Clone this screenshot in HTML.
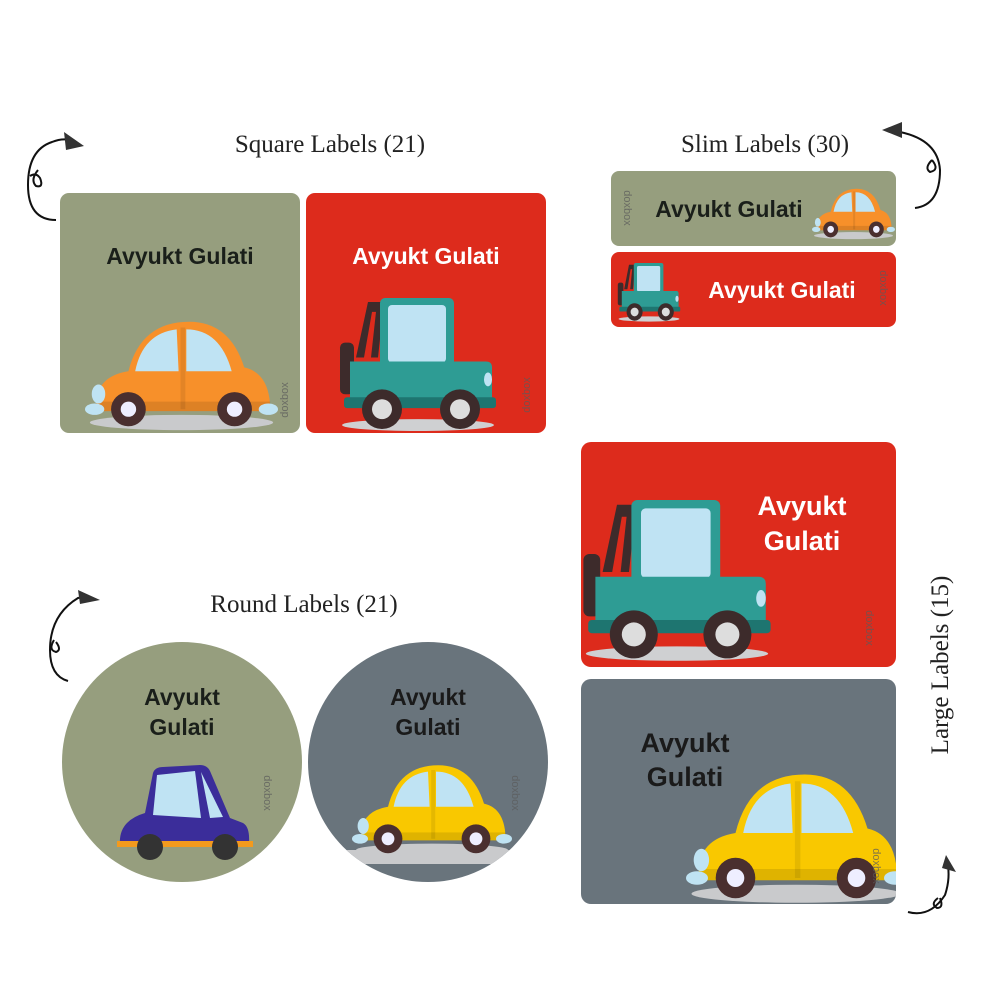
<!DOCTYPE html>
<html><head><meta charset="utf-8"><style>
html,body{margin:0;padding:0;background:#fff;}
svg{display:block;}
.t{font-family:"Liberation Serif",serif;font-size:25px;fill:#222;}
.n{font-family:"Liberation Sans",sans-serif;font-weight:bold;}
.w{font-family:"Liberation Sans",sans-serif;font-size:11px;fill:#5b5b5b;opacity:.75;}
</style></head><body>
<svg width="1000" height="1000" viewBox="0 0 1000 1000" xmlns="http://www.w3.org/2000/svg">
<defs>
<symbol id="bug" viewBox="0 0 200 120" preserveAspectRatio="none">
  <ellipse cx="100" cy="110" rx="95" ry="8" fill="#c9cacc"/>
  <path d="M12 98 Q8 62 45 56 Q58 4 108 4 Q150 4 165 52 Q192 58 192 98 Z" fill="currentColor"/>
  <path d="M52 56 Q60 16 95 12 L97 56 Z" fill="#bfe3f3"/>
  <path d="M105 12 Q140 12 152 56 L105 56 Z" fill="#bfe3f3"/>
  <rect x="99" y="10" width="5" height="86" fill="#000" opacity=".08"/>
  <rect x="12" y="88" width="180" height="10" fill="#000" opacity=".1"/>
  <ellipse cx="14" cy="80" rx="7" ry="10" fill="#bfe3f3"/>
  <ellipse cx="10" cy="96" rx="10" ry="6" fill="#bfe3f3"/>
  <ellipse cx="190" cy="96" rx="10" ry="6" fill="#bfe3f3"/>
  <circle cx="45" cy="96" r="18" fill="#4a2f2f"/><circle cx="45" cy="96" r="8" fill="#eef"/>
  <circle cx="155" cy="96" r="18" fill="#4a2f2f"/><circle cx="155" cy="96" r="8" fill="#eef"/>
</symbol>
<symbol id="jeep" viewBox="0 0 160 135" preserveAspectRatio="none">
  <ellipse cx="80" cy="128" rx="76" ry="6" fill="#cfd0d2"/>
  <path d="M18 60 L30 4 L46 4 L40 60 L33 60 L38 14 L34 14 L26 60 Z" fill="#3d2b2b"/>
  <rect x="2" y="45" width="14" height="52" rx="5" fill="#3d2b2b"/>
  <rect x="42" y="0" width="74" height="72" rx="5" fill="#2e9c94"/>
  <rect x="50" y="7" width="58" height="58" rx="4" fill="#bfe3f3"/>
  <path d="M12 64 H148 Q154 64 154 70 V105 H12 Z" fill="#2e9c94"/>
  <rect x="6" y="100" width="152" height="11" rx="3" fill="#1e7570"/>
  <ellipse cx="150" cy="82" rx="4" ry="7" fill="#bfe3f3"/>
  <circle cx="44" cy="112" r="20" fill="#3d2b2b"/><circle cx="44" cy="112" r="10" fill="#ddd"/>
  <circle cx="122" cy="112" r="20" fill="#3d2b2b"/><circle cx="122" cy="112" r="10" fill="#ddd"/>
</symbol>
<symbol id="box" viewBox="0 0 140 100" preserveAspectRatio="none">
  <path d="M30 50 L38 10 Q40 4 48 4 L85 2 Q92 2 95 8 L115 55 L128 60 Q135 64 134 80 L5 82 Q3 58 30 50 Z" fill="#3b2d9a"/>
  <path d="M42 12 L80 8 L86 55 L38 52 Z" fill="#bfe3f3"/>
  <path d="M86 9 L108 54 L95 55 Z" fill="#bfe3f3"/>
  <rect x="2" y="78" width="136" height="6" fill="#f39a1e"/>
  <circle cx="35" cy="84" r="13" fill="#333"/><circle cx="110" cy="84" r="13" fill="#333"/>
</symbol>
<clipPath id="cg"><rect x="581" y="679" width="315" height="225" rx="10"/></clipPath>
<clipPath id="cr"><rect x="581" y="442" width="315" height="225" rx="10"/></clipPath>
<clipPath id="c2"><circle cx="428" cy="762" r="120"/></clipPath>
</defs>

<text class="t" x="330" y="152" text-anchor="middle">Square Labels (21)</text>
<text class="t" x="765" y="152" text-anchor="middle">Slim Labels (30)</text>
<text class="t" x="304" y="612" text-anchor="middle">Round Labels (21)</text>
<text class="t" transform="translate(948,665) rotate(-90)" text-anchor="middle">Large Labels (15)</text>

<g fill="none" stroke="#111" stroke-width="2">
 <path d="M56 220 Q28 220 28 185 Q28 150 52 142 Q62 138 70 140"/>
 <path d="M38 170 Q30 180 36 186 Q44 188 40 178 Q36 172 30 176"/>
 <path d="M68 681 Q50 676 50 650 Q50 615 78 598 L84 597"/>
 <path d="M54 640 Q48 650 56 652 Q62 650 56 642"/>
 <path d="M915 208 Q940 205 940 170 Q938 140 900 132"/>
 <path d="M932 160 Q924 168 930 172 Q940 170 932 160"/>
 <path d="M908 912 Q930 918 945 895 Q950 880 948 866"/>
 <path d="M940 898 Q944 908 937 908 Q930 904 938 898"/>
</g>
<g fill="#333">
 <polygon points="64,132 84,146 66,150"/>
 <polygon points="78,590 100,600 80,604"/>
 <polygon points="882,130 902,122 902,138"/>
 <polygon points="942,868 956,872 946,855"/>
</g>

<rect x="60" y="193" width="240" height="240" rx="9" fill="#969e7e"/>
<text class="n" x="180" y="264" font-size="23" text-anchor="middle" fill="#1a1f1a">Avyukt Gulati</text>
<use href="#bug" x="85" y="318" width="193" height="114" color="#f7902a"/>
<text class="w" transform="translate(288,400) rotate(-90)" text-anchor="middle">doxbox</text>

<rect x="306" y="193" width="240" height="240" rx="9" fill="#dd2b1c"/>
<text class="n" x="426" y="264" font-size="23" text-anchor="middle" fill="#fff">Avyukt Gulati</text>
<use href="#jeep" x="338" y="298" width="160" height="134"/>
<text class="w" transform="translate(530,395) rotate(-90)" text-anchor="middle" fill="#6a1a12">doxbox</text>

<rect x="611" y="171" width="285" height="75" rx="8" fill="#969e7e"/>
<text class="n" x="729" y="217" font-size="23" text-anchor="middle" fill="#1a1f1a">Avyukt Gulati</text>
<use href="#bug" x="812" y="187" width="83" height="53" color="#f7902a"/>
<text class="w" transform="translate(624,208) rotate(90)" text-anchor="middle">doxbox</text>

<rect x="611" y="252" width="285" height="75" rx="8" fill="#dd2b1c"/>
<text class="n" x="782" y="298" font-size="23" text-anchor="middle" fill="#fff">Avyukt Gulati</text>
<use href="#jeep" x="617" y="263" width="64" height="59"/>
<text class="w" transform="translate(880,288) rotate(90)" text-anchor="middle" fill="#6a1a12">doxbox</text>

<rect x="581" y="442" width="315" height="225" rx="10" fill="#dd2b1c"/>
<g clip-path="url(#cr)"><use href="#jeep" x="581" y="500" width="192" height="162"/></g>
<text class="n" x="802" y="515" font-size="27" text-anchor="middle" fill="#fff">Avyukt</text>
<text class="n" x="802" y="550" font-size="27" text-anchor="middle" fill="#fff">Gulati</text>
<text class="w" transform="translate(866,628) rotate(90)" text-anchor="middle" fill="#6a1a12">doxbox</text>

<rect x="581" y="679" width="315" height="225" rx="10" fill="#69747c"/>
<g clip-path="url(#cg)"><use href="#bug" x="686" y="770" width="220" height="135" color="#f9c800"/></g>
<text class="n" x="685" y="752" font-size="27" text-anchor="middle" fill="#1a1a1a">Avyukt</text>
<text class="n" x="685" y="786" font-size="27" text-anchor="middle" fill="#1a1a1a">Gulati</text>
<text class="w" transform="translate(873,866) rotate(90)" text-anchor="middle" fill="#222">doxbox</text>

<circle cx="182" cy="762" r="120" fill="#969e7e"/>
<text class="n" x="182" y="705" font-size="23" text-anchor="middle" fill="#1a1f1a">Avyukt</text>
<text class="n" x="182" y="735" font-size="23" text-anchor="middle" fill="#1a1f1a">Gulati</text>
<use href="#box" x="115" y="763" width="140" height="100"/>
<text class="w" transform="translate(264,793) rotate(90)" text-anchor="middle">doxbox</text>

<circle cx="428" cy="762" r="120" fill="#69747c"/>
<g clip-path="url(#c2)"><rect x="300" y="850" width="260" height="14" fill="#c9cacc"/></g>
<text class="n" x="428" y="705" font-size="23" text-anchor="middle" fill="#1a1a1a">Avyukt</text>
<text class="n" x="428" y="735" font-size="23" text-anchor="middle" fill="#1a1a1a">Gulati</text>
<use href="#bug" x="352" y="762" width="160" height="96" color="#f9c800"/>
<text class="w" transform="translate(512,793) rotate(90)" text-anchor="middle" fill="#ccc">doxbox</text>
</svg>
</body></html>
